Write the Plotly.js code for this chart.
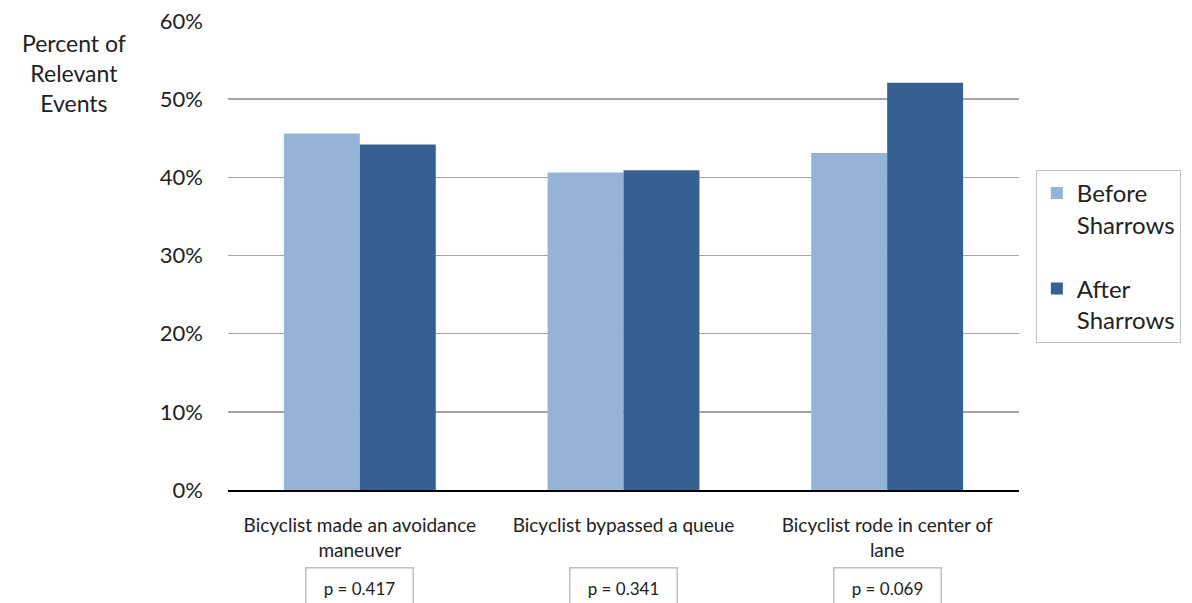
<!DOCTYPE html>
<html><head><meta charset="utf-8">
<script src="https://cdn.plot.ly/plotly-3.0.1.min.js"></script>
<style>body{margin:0;background:#fff}#c{width:1192px;height:603px}</style>
</head><body><div id="c"></div>
<script>
const categories = ["Bicyclist made an avoidance<br>maneuver", "Bicyclist bypassed a queue", "Bicyclist rode in center of<br>lane"];
const before = [0.456, 0.406, 0.431];
const after = [0.442, 0.409, 0.521];
const pvalues = ["p = 0.417", "p = 0.341", "p = 0.069"];
const seriesNames = ["Before<br>Sharrows", "After<br>Sharrows"];
const yTitle = "Percent of<br>Relevant<br>Events";
const F = "Lato, 'Open Sans', sans-serif";

const traces = [
  {type:'bar', x:categories, y:before, name:seriesNames[0], legendgroup:'a', marker:{color:'#95b3d7'}},
  {type:'bar', x:categories, y:after, name:seriesNames[1], legendgroup:'b', marker:{color:'#366092'}}
];
const annotations = pvalues.map((p,i)=>({
  x:categories[i], xref:'x', y:-0.21, yref:'paper', yanchor:'middle', text:p, showarrow:false,
  font:{family:F,size:17,color:'#222'}, bordercolor:'#bfbfbf', borderwidth:1.5, width:104, height:38, bgcolor:'#fff'
}));
annotations.push({x:-0.195, xref:'paper', y:0.985, yref:'paper', xanchor:'center', yanchor:'top', text:yTitle,
  showarrow:false, align:'center', font:{family:F,size:23,color:'#222'}});
const layout = {
  width:1192, height:603,
  margin:{l:228, r:172, t:20, b:113},
  paper_bgcolor:'#fff', plot_bgcolor:'#fff',
  barmode:'group', bargap:0.424, bargroupgap:0,
  font:{family:F, color:'#222'},
  xaxis:{tickfont:{family:F,size:19,color:'#222'}, ticks:'outside', ticklen:17, tickcolor:'rgba(0,0,0,0)',
    showline:true, linecolor:'#000', linewidth:2, showgrid:false, fixedrange:true},
  yaxis:{range:[0,0.6012], tickvals:[0,0.1,0.2,0.3,0.4,0.5,0.6], tickformat:'.0%', tickfont:{family:F,size:22,color:'#222'},
    gridcolor:'#a6a6a6', gridwidth:1.5, zeroline:false, ticks:'', ticklen:0, showline:false,
    ticklabelstandoff:24},
  legend:{x:1.02, xanchor:'left', y:0.681, yanchor:'top', bordercolor:'#bfbfbf', borderwidth:1, bgcolor:'#fff',
    font:{family:F,size:24,color:'#222'}, tracegroupgap:30, itemwidth:30, valign:'top'},
  showlegend:true,
  annotations:annotations
};
Plotly.newPlot('c', traces, layout, {displayModeBar:false, staticPlot:true});
</script></body></html>
